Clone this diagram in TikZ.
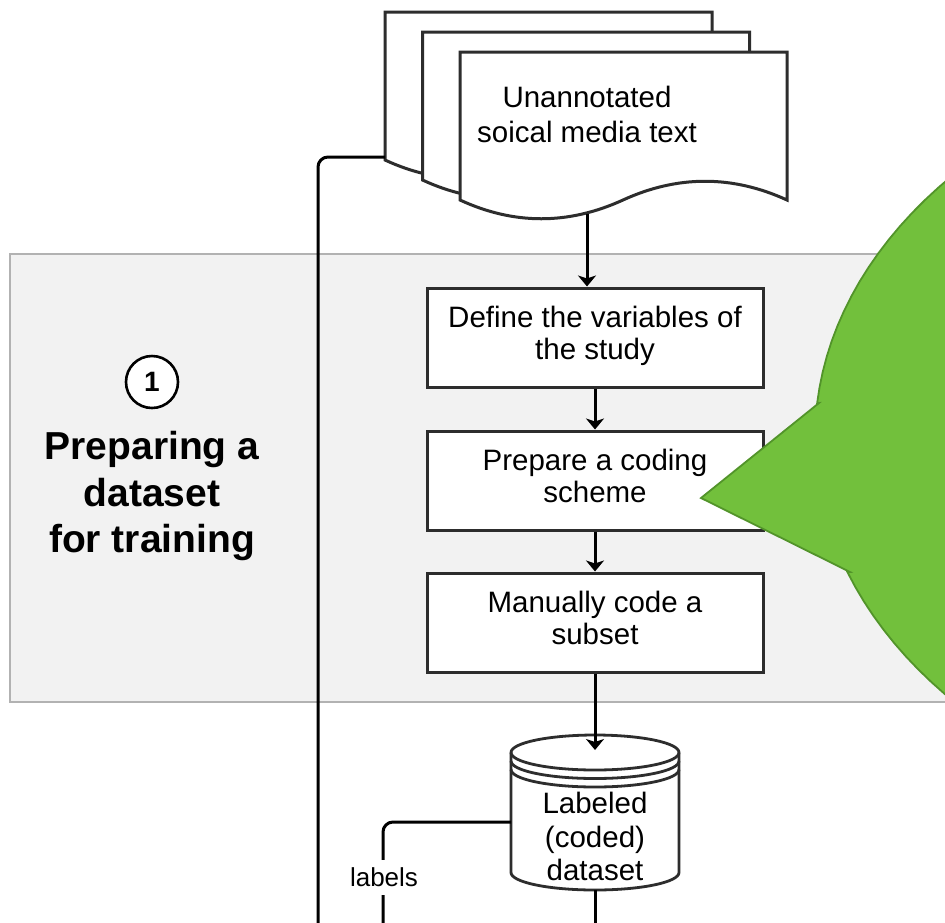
\documentclass[tikz,border=0pt]{standalone}
\usepackage{fontspec}
\setmainfont{Liberation Sans}
\usetikzlibrary{arrows.meta,calc}
\definecolor{bandfill}{RGB}{242,242,242}
\definecolor{bandline}{RGB}{178,178,178}
\definecolor{linec}{RGB}{45,45,45}
\definecolor{calloutfill}{RGB}{114,192,60}
\definecolor{calloutline}{RGB}{82,148,42}
\tikzset{
  boxnode/.style={draw=linec, line width=3pt, fill=white, minimum width=336pt,
    minimum height=99pt, inner sep=0pt, align=center, font=\fontsize{29.5}{32}\selectfont},
  flow/.style={draw=black, line width=3pt, -{Stealth[length=11pt,width=18pt,inset=3pt]}},
  plainline/.style={draw=black, line width=3pt},
  docpage/.style={draw=linec, line width=3pt, fill=white, line join=miter},
  cylpart/.style={draw=linec, line width=2.8pt},
}
\begin{document}
\begin{tikzpicture}[x=1pt,y=-1pt]
\useasboundingbox (0,0) rectangle (945,922);
\clip (0,0) rectangle (945,922);
\fill[white] (0,0) rectangle (945,922);
% band
\draw[fill=bandfill, draw=bandline, line width=1.8pt] (10,254) rectangle (970,702);
% document stack
\foreach \dx/\dy in {-75/-40,-37.5/-20,0/0}{
  \begin{scope}[shift={(\dx,\dy)}]
    \draw[docpage] (460,52) -- (787,52) -- (787,200)
      .. controls (732.3,175) and (677.7,175) .. (623,200)
      .. controls (568.3,225) and (514,225) .. (460,200) -- cycle;
  \end{scope}
}
\node[minimum width=402pt, minimum height=208pt, inner sep=0pt, align=center,
  font=\fontsize{29.5}{35}\selectfont] (stack) at (587,117.5)
  {Unannotated\strut\\soical media text\strut};
\coordinate (stackleft) at (385,157);
\coordinate (leftend) at (318,930);
\draw[plainline, rounded corners=10pt] (stackleft) -| (leftend);
% boxes
\node[boxnode] (define) at (595,337.5) {Define the variables of\strut\\the study\strut};
\node[boxnode] (prepare) at (595,480.5) {Prepare a coding\strut\\scheme\strut};
\node[boxnode] (manual) at (595,622.5) {Manually code a\strut\\subset\strut};
\coordinate (docbot) at (587,214);
\draw[flow] (docbot) -- (docbot |- define.north);
\draw[flow] (define) -- (prepare);
\draw[flow] (prepare) -- (manual);
% cylinder
\draw[cylpart, fill=white] (511,752.5) -- (511,872.5)
  arc[start angle=180, end angle=360, x radius=84pt, y radius=17.5pt]
  -- (679,752.5)
  arc[start angle=0, end angle=180, x radius=84pt, y radius=17.5pt] -- cycle;
\draw[cylpart] (511,752.5) arc[start angle=180, end angle=360, x radius=84pt, y radius=17.5pt];
\draw[cylpart] (511,761) arc[start angle=180, end angle=360, x radius=84pt, y radius=17.5pt];
\draw[cylpart] (511,769.5) arc[start angle=180, end angle=360, x radius=84pt, y radius=17.5pt];
\node[minimum width=168pt, minimum height=155pt, inner sep=0pt] (data) at (595,812.5) {};
\node[align=center, inner sep=0pt, font=\fontsize{29.5}{33.5}\selectfont] (datatext) at (595,840.3)
  {Labeled\strut\\(coded)\strut\\dataset\strut};
\coordinate (cyltop) at (595,750);
\draw[flow] (manual.south) -- (cyltop);
\coordinate (cylleft) at (511,822);
\coordinate (labend) at (383,930);
\draw[plainline, rounded corners=10pt] (cylleft) -| (labend);
\node[fill=white, inner xsep=2pt, inner ysep=8pt, font=\fontsize{26}{28}\selectfont] (labels) at (384,877.5) {labels};
\coordinate (dataend) at (595,930);
\draw[plainline] (data.south) -- (dataend);
% callout
\filldraw[fill=calloutfill, draw=calloutline, line width=1.8pt, line join=miter]
  (701,498) -- (819,403)
  -- plot[domain=185:520.4, samples=150, variable=\t] ({1375+560*cos(\t)}, {438+400*sin(\t)})
  -- (850,572) -- cycle;
% title
\node[circle, draw=black, line width=2.6pt, fill=white, minimum size=52pt, inner sep=0pt,
  font=\fontsize{28}{30}\selectfont\bfseries] (stepone) at (152,382) {1};
\node[align=center, inner sep=0pt, font=\fontsize{39}{46.5}\selectfont\bfseries] (title) at (152,496.7)
  {Preparing a\strut\\dataset\strut\\for training\strut};
\end{tikzpicture}
\end{document}
